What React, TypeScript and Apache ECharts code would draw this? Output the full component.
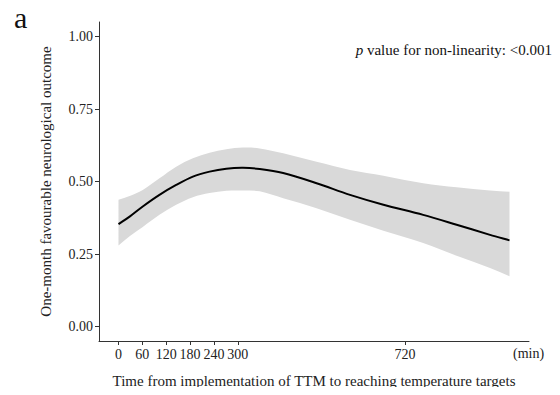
import React, { useEffect, useRef } from "react";
import * as echarts from "echarts";

const xValues = [0, 28, 61, 103, 145, 187, 229, 271, 313, 355, 414, 498, 582, 666, 766, 850, 934, 983];
const fitValues = [0.353, 0.379, 0.414, 0.454, 0.488, 0.517, 0.534, 0.544, 0.547, 0.543, 0.529, 0.494, 0.454, 0.42, 0.385, 0.351, 0.316, 0.297];
const upperValues = [0.437, 0.45, 0.471, 0.511, 0.551, 0.58, 0.599, 0.611, 0.617, 0.614, 0.597, 0.568, 0.54, 0.52, 0.494, 0.48, 0.469, 0.465];
const lowerValues = [0.279, 0.311, 0.343, 0.385, 0.42, 0.446, 0.46, 0.468, 0.469, 0.466, 0.442, 0.408, 0.368, 0.33, 0.288, 0.244, 0.202, 0.173];
const xTicks = [0, 60, 120, 180, 240, 300, 720];
const yTicks = [0, 0.25, 0.5, 0.75, 1.0];

const FONT = "'Liberation Serif', 'Times New Roman', serif";

type Pt = number[];

function tangents(pts: Pt[]): number[] {
  const n = pts.length;
  const m: number[] = [];
  for (let i = 0; i < n; i++) {
    const a = pts[Math.max(0, i - 1)];
    const b = pts[Math.min(n - 1, i + 1)];
    m.push((b[1] - a[1]) / (b[0] - a[0]));
  }
  return m;
}

function traceCurve(ctx: any, pts: Pt[], moveFirst: boolean) {
  const m = tangents(pts);
  if (moveFirst) ctx.moveTo(pts[0][0], pts[0][1]);
  else ctx.lineTo(pts[0][0], pts[0][1]);
  for (let i = 0; i < pts.length - 1; i++) {
    const p = pts[i];
    const q = pts[i + 1];
    const dx = (q[0] - p[0]) / 3;
    ctx.bezierCurveTo(p[0] + dx, p[1] + m[i] * dx, q[0] - dx, q[1] - m[i + 1] * dx, q[0], q[1]);
  }
}

echarts.graphic.registerShape(
  "ciBand",
  (echarts.graphic as any).extendShape({
    shape: { upper: [], lower: [] },
    buildPath(ctx: any, shape: any) {
      traceCurve(ctx, shape.upper, true);
      traceCurve(ctx, shape.lower.slice().reverse(), false);
      ctx.closePath();
    },
  })
);

echarts.graphic.registerShape(
  "fitCurve",
  (echarts.graphic as any).extendShape({
    shape: { points: [] },
    buildPath(ctx: any, shape: any) {
      traceCurve(ctx, shape.points, true);
    },
  })
);

export default function App() {
  const ref = useRef<HTMLDivElement>(null);
  useEffect(() => {
    if (!ref.current) return;
    const chart = echarts.init(ref.current, undefined, { renderer: "svg" });
    const axisColor = "#333";
    const rows = xValues.map((x, i) => [x, fitValues[i], lowerValues[i], upperValues[i]]);
    chart.setOption({
      animation: false,
      grid: { left: 99, right: 31, top: 22, bottom: 54, containLabel: false },
      xAxis: {
        type: "value",
        min: -49,
        max: 1032,
        z: 10,
        splitLine: { show: false },
        axisLine: { show: true, onZero: false, lineStyle: { color: axisColor, width: 1 } },
        axisTick: { show: true, length: 4, customValues: xTicks, lineStyle: { color: axisColor } },
        axisLabel: {
          customValues: xTicks,
          color: "#222",
          fontFamily: FONT,
          fontSize: 14,
          margin: 6,
        },
        name: "Time from implementation of TTM to reaching temperature targets",
        nameLocation: "middle",
        nameGap: 32,
        nameTextStyle: { fontFamily: FONT, fontSize: 15, color: "#222" },
      },
      yAxis: {
        type: "value",
        min: -0.05,
        max: 1.05,
        z: 10,
        splitLine: { show: false },
        axisLine: { show: true, onZero: false, lineStyle: { color: axisColor, width: 1 } },
        axisTick: { show: true, length: 4, customValues: yTicks, lineStyle: { color: axisColor } },
        axisLabel: {
          customValues: yTicks,
          formatter: (v: number) => v.toFixed(2),
          color: "#222",
          fontFamily: FONT,
          fontSize: 14,
          margin: 6,
        },
        name: "One-month favourable neurological outcome",
        nameLocation: "middle",
        nameGap: 46,
        nameTextStyle: { fontFamily: FONT, fontSize: 15, color: "#222" },
      },
      series: [
        {
          type: "custom",
          data: rows,
          encode: { x: 0, y: [1, 2, 3] },
          silent: true,
          renderItem: (params: any, api: any) => {
            if (params.dataIndex !== 0) return null;
            const upper = rows.map((r) => api.coord([r[0], r[3]]));
            const lower = rows.map((r) => api.coord([r[0], r[2]]));
            const fit = rows.map((r) => api.coord([r[0], r[1]]));
            return {
              type: "group",
              children: [
                {
                  type: "ciBand",
                  shape: { upper, lower },
                  style: { fill: "#d9d9d9", stroke: null },
                },
                {
                  type: "fitCurve",
                  shape: { points: fit },
                  style: { fill: null, stroke: "#000", lineWidth: 2 },
                },
              ],
            };
          },
        },
      ],
      graphic: [
        {
          type: "text",
          x: 14,
          y: 2,
          style: { text: "a", font: `30px ${FONT}`, fill: "#111" },
        },
        {
          type: "text",
          x: 552,
          y: 42,
          style: {
            text: "{i|p} value for non-linearity: <0.001",
            font: `15px ${FONT}`,
            fill: "#111",
            align: "right",
            rich: {
              i: { fontStyle: "italic", font: `italic 15px ${FONT}`, fill: "#111" },
            },
          },
        },
        {
          type: "text",
          x: 513,
          y: 346,
          style: { text: "(min)", font: `14px ${FONT}`, fill: "#222" },
        },
      ],
    });
    return () => chart.dispose();
  }, []);
  return <div ref={ref} style={{ width: 560, height: 395, margin: -8 }} />;
}
